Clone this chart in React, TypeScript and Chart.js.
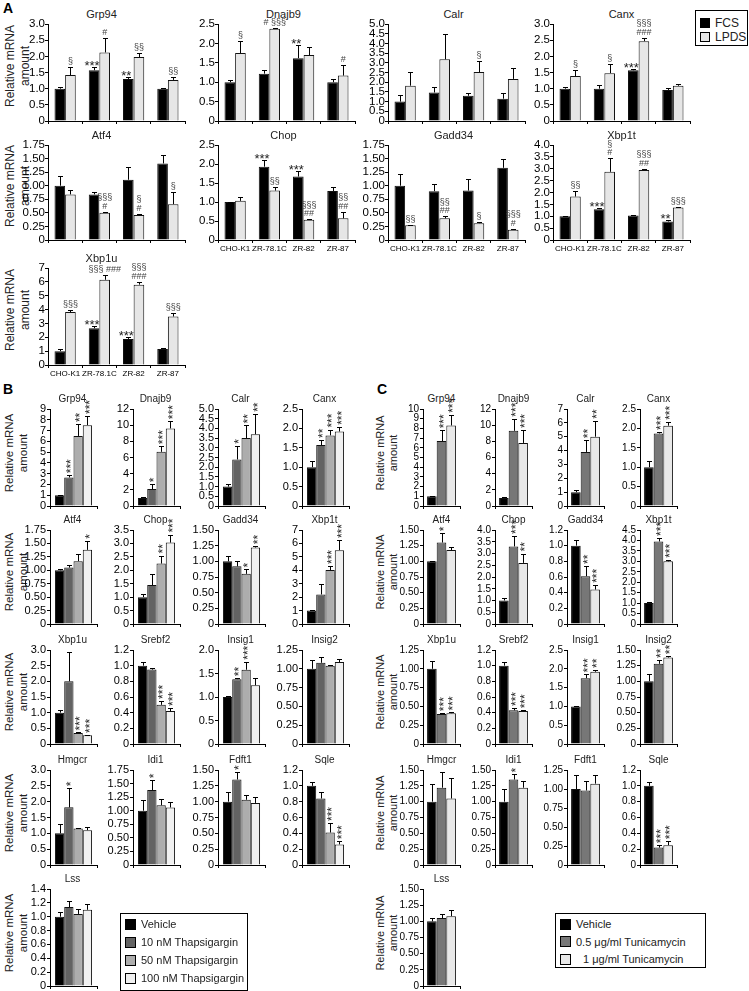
import React, { useEffect, useRef } from 'react';
import { Chart, registerables } from 'chart.js';

Chart.register(...registerables);

const FONT = "'Liberation Sans', Arial, Helvetica, sans-serif";
Chart.defaults.font.family = FONT;
Chart.defaults.color = '#000';

// ---------------- Panel A data ----------------
const A_SERIES = ['FCS', 'LPDS'];
const A_CELLS = ['CHO-K1', 'ZR-78.1C', 'ZR-82', 'ZR-87'];
const A_GENES = ['Grp94', 'Dnajb9', 'Calr', 'Canx', 'Atf4', 'Chop', 'Gadd34', 'Xbp1t', 'Xbp1u'];
const A_YMAX = [3, 2.5, 5, 3, 1.75, 2.5, 1.75, 4, 7];
const A_YSTEP = [0.5, 0.5, 0.5, 0.5, 0.25, 0.5, 0.25, 0.5, 1];
const A_FCS = [
  [1.0, 1.57, 1.3, 1.0],
  [1.0, 1.22, 1.62, 1.0],
  [1.0, 1.47, 1.3, 1.15],
  [1.0, 1.0, 1.57, 0.96],
  [1.0, 0.84, 1.11, 1.41],
  [1.0, 1.93, 1.67, 1.29],
  [1.0, 0.9, 0.91, 1.33],
  [1.0, 1.3, 1.03, 0.78],
  [1.0, 2.65, 1.88, 1.15],
];
const A_FCS_ERR = [
  [0.04, 0.1, 0.05, 0.03],
  [0.05, 0.1, 0.33, 0.07],
  [0.35, 0.28, 0.15, 0.3],
  [0.05, 0.1, 0.03, 0.06],
  [0.17, 0.04, 0.24, 0.16],
  [0.01, 0.17, 0.15, 0.1],
  [0.21, 0.14, 0.22, 0.17],
  [0.02, 0.03, 0.03, 0.05],
  [0.15, 0.2, 0.12, 0.08],
];
const A_LPDS = [
  [1.42, 2.12, 1.98, 1.27],
  [1.75, 2.38, 1.7, 1.17],
  [1.82, 3.18, 2.52, 2.17],
  [1.39, 1.48, 2.47, 1.09],
  [0.84, 0.5, 0.46, 0.66],
  [1.03, 1.3, 0.53, 0.57],
  [0.27, 0.4, 0.31, 0.19],
  [1.83, 2.87, 2.95, 1.37],
  [3.82, 6.15, 5.8, 3.5],
];
const A_LPDS_ERR = [
  [0.25, 0.45, 0.13, 0.08],
  [0.3, 0.02, 0.22, 0.27],
  [0.72, 1.32, 0.58, 0.58],
  [0.18, 0.27, 0.1, 0.06],
  [0.08, 0.02, 0.02, 0.22],
  [0.1, 0.1, 0.02, 0.18],
  [0.01, 0.04, 0.02, 0.02],
  [0.22, 0.58, 0.05, 0.03],
  [0.15, 0.35, 0.2, 0.25],
];
const A_FCS_SIG = [
  ['', '***', '**', ''],
  ['', '', '**', ''],
  ['', '', '', ''],
  ['', '', '***', ''],
  ['', '', '', ''],
  ['', '***', '***', ''],
  ['', '', '', ''],
  ['', '***', '', '**'],
  ['', '***', '***', ''],
];
const A_LPDS_SIG = [
  ['§', '#', '§§', '§§'],
  ['§', '# §§§', '', '#'],
  ['', '', '§', ''],
  ['§', '§', '§§§\n###', ''],
  ['', '§§§\n#', '§\n#', '§'],
  ['', '§§', '§§§\n##', '§§\n##'],
  ['§§', '§§\n##', '§', '§§§\n#'],
  ['§§', '§\n#', '§§§\n##', '§§§'],
  ['§§§', '§§§ ###', '§§§\n###', '§§§'],
];

// ---------------- Panels B and C: genes ----------------
const BC_GENES = ['Grp94', 'Dnajb9', 'Calr', 'Canx', 'Atf4', 'Chop', 'Gadd34', 'Xbp1t', 'Xbp1u', 'Srebf2', 'Insig1', 'Insig2', 'Hmgcr', 'Idi1', 'Fdft1', 'Sqle', 'Lss'];

// ---------------- Panel B data (thapsigargin) ----------------
const B_SERIES = ['Vehicle', '10 nM Thapsigargin', '50 nM Thapsigargin', '100 nM Thapsigargin'];
const B_YMAX = [9, 12, 5, 2.5, 1.75, 3.5, 1.5, 7, 3, 1.2, 2, 1.25, 3, 1.75, 1.5, 1.2, 1.4];
const B_YSTEP = [1, 2, 0.5, 0.5, 0.25, 0.5, 0.25, 1, 0.5, 0.2, 0.5, 0.25, 0.5, 0.25, 0.25, 0.2, 0.2];
const B_VEHICLE = [1, 1, 1, 1, 1, 1, 1, 1, 1, 1, 1, 1, 1, 1, 1, 1, 1];
const B_VEHICLE_ERR = [0.05, 0.15, 0.12, 0.15, 0.02, 0.1, 0.08, 0.05, 0.1, 0.05, 0.02, 0.12, 0.28, 0.2, 0.15, 0.05, 0.07];
const B_TG10 = [2.65, 2.1, 2.4, 1.57, 1.05, 1.45, 0.92, 2.2, 2.0, 0.95, 1.38, 1.08, 1.82, 1.38, 1.35, 0.84, 1.14];
const B_TG10_ERR = [0.2, 0.6, 0.7, 0.13, 0.05, 0.4, 0.08, 0.75, 0.95, 0.02, 0.02, 0.08, 0.6, 0.18, 0.12, 0.08, 0.09];
const B_TG50 = [6.5, 6.7, 3.5, 1.82, 1.17, 2.25, 0.8, 4.02, 0.35, 0.5, 1.58, 1.04, 1.15, 1.1, 1.03, 0.41, 1.04];
const B_TG50_ERR = [1.1, 0.7, 0.65, 0.15, 0.13, 0.3, 0.07, 0.3, 0.02, 0.05, 0.17, 0.01, 0.03, 0.12, 0.08, 0.12, 0.07];
const B_TG100 = [7.5, 9.6, 3.7, 1.92, 1.38, 3.03, 1.22, 5.5, 0.28, 0.42, 1.25, 1.09, 1.1, 1.06, 0.98, 0.26, 1.1];
const B_TG100_ERR = [0.85, 0.9, 1.05, 0.12, 0.17, 0.3, 0.02, 0.75, 0.01, 0.04, 0.15, 0.04, 0.1, 0.1, 0.1, 0.04, 0.09];
const B_TG10_SIG = ['***', '*', '*', '**', '', '', '', '', '', '', '**', '', '*', '*', '*', '', ''];
const B_TG50_SIG = ['**', '***', '**', '***', '', '**', '*', '***', '***', '***', '***', '', '', '', '', '***', ''];
const B_TG100_SIG = ['***', '***', '**', '***', '*', '***', '**', '***', '***', '***', '', '', '', '', '', '***', ''];

// ---------------- Panel C data (tunicamycin) ----------------
const C_SERIES = ['Vehicle', '0.5 μg/ml Tunicamycin', '1 μg/ml Tunicamycin'];
const C_YMAX = [10, 12, 7, 2.5, 1.5, 4, 1.2, 4.5, 1.25, 1.2, 2.5, 1.5, 1.5, 1.5, 1.25, 1.2, 1.5];
const C_YSTEP = [1, 2, 1, 0.5, 0.25, 0.5, 0.2, 0.5, 0.25, 0.2, 0.5, 0.25, 0.25, 0.25, 0.25, 0.2, 0.25];
const C_VEHICLE = [1, 1, 1, 1, 1, 1, 1, 1, 1, 1, 1, 1, 1, 1, 1, 1, 1];
const C_VEHICLE_ERR = [0.05, 0.1, 0.15, 0.15, 0.01, 0.1, 0.07, 0.05, 0.1, 0.05, 0.02, 0.12, 0.28, 0.2, 0.18, 0.05, 0.05];
const C_TM05 = [6.7, 9.3, 3.9, 1.87, 1.3, 3.3, 0.61, 3.95, 0.4, 0.43, 1.75, 1.28, 1.22, 1.35, 0.98, 0.22, 1.05];
const C_TM05_ERR = [1.1, 1.5, 0.85, 0.04, 0.15, 0.45, 0.13, 0.17, 0.01, 0.03, 0.1, 0.06, 0.25, 0.08, 0.12, 0.03, 0.07];
const C_TM1 = [8.3, 7.8, 5.0, 2.07, 1.18, 2.6, 0.44, 3.0, 0.41, 0.42, 1.92, 1.38, 1.05, 1.22, 1.07, 0.25, 1.08];
const C_TM1_ERR = [1.1, 1.6, 1.15, 0.1, 0.05, 0.4, 0.06, 0.07, 0.01, 0.01, 0.05, 0.02, 0.33, 0.1, 0.12, 0.05, 0.1];
const C_TM05_SIG = ['***', '***', '**', '***', '*', '***', '**', '***', '***', '***', '***', '**', '', '*', '', '***', ''];
const C_TM1_SIG = ['***', '***', '**', '***', '', '**', '***', '***', '***', '***', '**', '**', '', '', '', '***', ''];

// ---------------- Layout (positions / styles) ----------------
const YW = 40; // y-axis box width
const PT = 26; // top padding for annotations
const PR = 8;
const XH = 16;

const A_COLS = [48, 218, 388, 553];
const A_ROWS = [24, 145, 268];
const A_ROWH = [97, 95, 97];
const A_PLOTW = 137;
const A_POS = [[0, 0], [1, 0], [2, 0], [3, 0], [0, 1], [1, 1], [2, 1], [3, 1], [0, 2]];
const A_SHOWCELLS = [false, false, false, false, false, true, true, true, true];
const A_TITLE_DX = [-15, -3, -3, 0];
const A_COLORS = ['#000000', '#e6e6e6'];

const BC_ROWS = [409, 530, 650, 770, 889];
const BC_ROWH = [97, 94, 94, 95, 97];
const B_COLS = [50, 133, 218, 302];
const B_PLOTW = 47;
const B_COLORS = ['#000000', '#636363', '#adadad', '#f0f0f0'];
const C_COLS = [423, 495, 567, 640];
const C_PLOTW = 37;
const C_COLORS = ['#000000', '#777777', '#e8e8e8'];

type Series = { label: string; data: number[]; err: number[]; sig: string[]; color: string };
type Spec = {
  key: string;
  title: string;
  titleDx: number;
  titleSize: number;
  labels: string[];
  showLabels: boolean;
  series: Series[];
  ymax: number;
  ystep: number;
  axisX: number;
  plotTop: number;
  plotW: number;
  plotH: number;
  catPct: number;
  rotated: boolean;
  tickSize: number;
  tickPad: number;
};

const errorBarPlugin = {
  id: 'errbars',
  afterDatasetsDraw(chart: any) {
    const ctx = chart.ctx;
    const ys = chart.scales.y;
    chart.data.datasets.forEach((ds: any, i: number) => {
      const meta = chart.getDatasetMeta(i);
      meta.data.forEach((el: any, j: number) => {
        const e = ds.err ? ds.err[j] : 0;
        if (!e) return;
        const yt = Math.round(ys.getPixelForValue(ds.data[j] + e)) + 0.5;
        const x = Math.round(el.x) + 0.5;
        ctx.save();
        ctx.strokeStyle = '#000';
        ctx.lineWidth = 1;
        ctx.beginPath();
        ctx.moveTo(x, el.y);
        ctx.lineTo(x, yt);
        ctx.moveTo(x - 2.5, yt);
        ctx.lineTo(x + 2.5, yt);
        ctx.stroke();
        ctx.restore();
      });
    });
  },
};

const sigPlugin = {
  id: 'sig',
  afterDatasetsDraw(chart: any, _args: any, opts: any) {
    const ctx = chart.ctx;
    const ys = chart.scales.y;
    chart.data.datasets.forEach((ds: any, i: number) => {
      const meta = chart.getDatasetMeta(i);
      meta.data.forEach((el: any, j: number) => {
        const s = ds.sig ? ds.sig[j] : '';
        if (!s) return;
        const top = ys.getPixelForValue(ds.data[j] + (ds.err ? ds.err[j] : 0));
        ctx.save();
        if (opts.rotated) {
          ctx.fillStyle = '#222';
          ctx.font = `12px ${FONT}`;
          ctx.translate(el.x + 3, top - 2);
          ctx.rotate(-Math.PI / 2);
          ctx.textAlign = 'left';
          ctx.textBaseline = 'middle';
          ctx.fillText(s, 0, 0);
        } else {
          const lines = s.split('\n');
          const star = s.includes('*');
          ctx.fillStyle = star ? '#222' : '#444';
          ctx.font = star ? `13px ${FONT}` : `9px ${FONT}`;
          ctx.textAlign = 'center';
          ctx.textBaseline = 'alphabetic';
          let yy = star ? top + 3 : top - 3;
          const x = el.x + (i === 0 ? -2 : 0);
          for (let k = lines.length - 1; k >= 0; k--) {
            ctx.fillText(lines[k], x, yy);
            yy -= 8.5;
          }
        }
        ctx.restore();
      });
    });
  },
};

function decimals(step: number) {
  if (step >= 1) return 0;
  if (Math.abs(step * 10 - Math.round(step * 10)) < 1e-9) return 1;
  return 2;
}

function BarChart({ spec }: { spec: Spec }) {
  const ref = useRef<HTMLCanvasElement>(null);
  const w = YW + spec.plotW + PR;
  const h = PT + spec.plotH + XH;
  useEffect(() => {
    const c = ref.current!;
    const dec = decimals(spec.ystep);
    const chart = new Chart(c, {
      type: 'bar',
      data: {
        labels: spec.labels,
        datasets: spec.series.map((s) => ({
          label: s.label,
          data: s.data,
          err: s.err,
          sig: s.sig,
          backgroundColor: s.color,
          borderColor: '#111',
          borderWidth: 1,
          barPercentage: 1,
          categoryPercentage: spec.catPct,
        })) as any,
      },
      options: {
        responsive: false,
        animation: false,
        devicePixelRatio: 1,
        events: [],
        layout: { padding: { top: PT, right: PR, left: 0, bottom: 0 } },
        plugins: {
          legend: { display: false },
          tooltip: { enabled: false },
          sig: { rotated: spec.rotated },
        } as any,
        scales: {
          x: {
            type: 'category',
            offset: true,
            grid: { offset: true, drawOnChartArea: false, drawTicks: true, tickLength: 3, color: '#000' },
            border: { display: true, color: '#000', width: 1 },
            ticks: {
              display: spec.showLabels,
              font: { size: 8, family: FONT },
              color: '#000',
              padding: 1,
              maxRotation: 0,
              minRotation: 0,
              autoSkip: false,
            },
            afterFit: (s: any) => {
              s.height = XH;
            },
          } as any,
          y: {
            type: 'linear',
            min: 0,
            max: spec.ymax,
            grid: { drawOnChartArea: false, drawTicks: true, tickLength: 3, color: '#000' },
            border: { display: true, color: '#000', width: 1 },
            ticks: {
              stepSize: spec.ystep,
              autoSkip: false,
              maxTicksLimit: 100,
              font: { size: spec.tickSize, family: FONT },
              color: '#000',
              padding: spec.tickPad,
              callback: (v: any) => (Number(v) === 0 ? '0' : Number(v).toFixed(dec)),
            },
            afterFit: (s: any) => {
              s.width = YW;
            },
          } as any,
        },
      },
      plugins: [errorBarPlugin, sigPlugin],
    });
    return () => chart.destroy();
  }, []);
  const cx = spec.axisX + spec.plotW / 2 + spec.titleDx;
  return (
    <>
      <div
        style={{
          position: 'absolute',
          left: cx - 50,
          width: 100,
          top: spec.plotTop - 10 - 7,
          height: 14,
          lineHeight: '14px',
          textAlign: 'center',
          fontFamily: FONT,
          fontSize: spec.titleSize,
          fontWeight: 400,
          color: '#222',
        }}
      >
        {spec.title}
      </div>
      <canvas
        ref={ref}
        width={w}
        height={h}
        style={{ position: 'absolute', left: spec.axisX - YW, top: spec.plotTop - PT, width: w, height: h }}
      />
    </>
  );
}

function buildA(): Spec[] {
  return A_GENES.map((g, i) => {
    const [col, row] = A_POS[i];
    return {
      key: 'A-' + g,
      title: g,
      titleDx: A_TITLE_DX[col],
      titleSize: 11,
      labels: A_CELLS,
      showLabels: A_SHOWCELLS[i],
      series: [
        { label: A_SERIES[0], data: A_FCS[i], err: A_FCS_ERR[i], sig: A_FCS_SIG[i], color: A_COLORS[0] },
        { label: A_SERIES[1], data: A_LPDS[i], err: A_LPDS_ERR[i], sig: A_LPDS_SIG[i], color: A_COLORS[1] },
      ],
      ymax: A_YMAX[i],
      ystep: A_YSTEP[i],
      axisX: A_COLS[col],
      plotTop: A_ROWS[row],
      plotW: A_PLOTW,
      plotH: A_ROWH[row],
      catPct: 0.62,
      rotated: false,
      tickSize: 11.5,
      tickPad: 0,
    };
  });
}

function buildB(): Spec[] {
  return BC_GENES.map((g, i) => {
    const col = i % 4;
    const row = Math.floor(i / 4);
    const vals = [B_VEHICLE, B_TG10, B_TG50, B_TG100];
    const errs = [B_VEHICLE_ERR, B_TG10_ERR, B_TG50_ERR, B_TG100_ERR];
    const sigs = [B_VEHICLE.map(() => ''), B_TG10_SIG, B_TG50_SIG, B_TG100_SIG];
    return {
      key: 'B-' + g,
      title: g,
      titleDx: -1,
      titleSize: 10,
      labels: [''],
      showLabels: false,
      series: B_SERIES.map((lab, k) => ({ label: lab, data: [vals[k][i]], err: [errs[k][i]], sig: [sigs[k][i]], color: B_COLORS[k] })),
      ymax: B_YMAX[i],
      ystep: B_YSTEP[i],
      axisX: B_COLS[col],
      plotTop: BC_ROWS[row],
      plotW: B_PLOTW,
      plotH: BC_ROWH[row],
      catPct: 0.79,
      rotated: true,
      tickSize: 11,
      tickPad: 1,
    };
  });
}

function buildC(): Spec[] {
  return BC_GENES.map((g, i) => {
    const col = i % 4;
    const row = Math.floor(i / 4);
    const vals = [C_VEHICLE, C_TM05, C_TM1];
    const errs = [C_VEHICLE_ERR, C_TM05_ERR, C_TM1_ERR];
    const sigs = [C_VEHICLE.map(() => ''), C_TM05_SIG, C_TM1_SIG];
    return {
      key: 'C-' + g,
      title: g,
      titleDx: 0,
      titleSize: 10,
      labels: [''],
      showLabels: false,
      series: C_SERIES.map((lab, k) => ({ label: lab, data: [vals[k][i]], err: [errs[k][i]], sig: [sigs[k][i]], color: C_COLORS[k] })),
      ymax: C_YMAX[i],
      ystep: C_YSTEP[i],
      axisX: C_COLS[col],
      plotTop: BC_ROWS[row],
      plotW: C_PLOTW,
      plotH: BC_ROWH[row],
      catPct: 0.78,
      rotated: true,
      tickSize: 10,
      tickPad: 1,
    };
  });
}

function YLabel({ cx, cy, size, lh }: { cx: number; cy: number; size: number; lh: number }) {
  const w = 100;
  const hh = lh * 2;
  return (
    <div
      style={{
        position: 'absolute',
        left: cx - w / 2,
        top: cy - hh / 2,
        width: w,
        height: hh,
        transform: 'rotate(-90deg)',
        transformOrigin: 'center',
        textAlign: 'center',
        fontFamily: FONT,
        fontSize: size,
        lineHeight: `${lh}px`,
        color: '#222',
        whiteSpace: 'nowrap',
      }}
    >
      Relative mRNA
      <br />
      amount
    </div>
  );
}

function Legend({
  left,
  top,
  width,
  height,
  labels,
  colors,
  size,
  step,
  first,
  sq,
  textX,
  indent,
}: {
  left: number;
  top: number;
  width: number;
  height: number;
  labels: string[];
  colors: string[];
  size: number;
  step: number;
  first: number;
  sq: number;
  textX: number;
  indent?: number[];
}) {
  return (
    <div
      style={{
        position: 'absolute',
        left,
        top,
        width,
        height,
        border: '1px solid #000',
        boxSizing: 'border-box',
        background: '#fff',
      }}
    >
      {labels.map((lab, k) => (
        <React.Fragment key={lab}>
          <div
            style={{
              position: 'absolute',
              left: 4,
              top: first + k * step - sq / 2,
              width: sq,
              height: sq,
              background: colors[k],
              border: '1px solid #000',
              boxSizing: 'border-box',
            }}
          />
          <div
            style={{
              position: 'absolute',
              left: textX + (indent ? indent[k] : 0),
              top: first + k * step - 8,
              height: 16,
              lineHeight: '16px',
              fontFamily: FONT,
              fontSize: size,
              color: '#222',
              whiteSpace: 'nowrap',
            }}
          >
            {lab}
          </div>
        </React.Fragment>
      ))}
    </div>
  );
}

export default function App() {
  const specs = [...buildA(), ...buildB(), ...buildC()];
  const letter = (t: string, left: number, top: number) => (
    <div style={{ position: 'absolute', left, top, fontFamily: FONT, fontSize: 14, fontWeight: 700, color: '#000' }}>{t}</div>
  );
  return (
    <div
      style={{
        position: 'absolute',
        left: 0,
        top: 0,
        width: 749,
        height: 991,
        overflow: 'hidden',
        background: '#fff',
      }}
    >
      {letter('A', 3, 0)}
      {letter('B', 3, 381)}
      {letter('C', 377, 381)}
      {A_ROWS.map((t, r) => (
        <YLabel key={'ya' + r} cx={18} cy={t + A_ROWH[r] / 2 - 7} size={12} lh={15} />
      ))}
      {BC_ROWS.map((t, r) => (
        <YLabel key={'yb' + r} cx={16} cy={t + BC_ROWH[r] / 2 - 5} size={11.5} lh={14} />
      ))}
      {BC_ROWS.map((t, r) => (
        <YLabel key={'yc' + r} cx={387} cy={t + BC_ROWH[r] / 2 - 5} size={11} lh={13} />
      ))}
      {specs.map((s) => (
        <BarChart key={s.key} spec={s} />
      ))}
      <Legend left={695} top={10} width={53} height={36} labels={A_SERIES} colors={A_COLORS} size={12} step={14} first={12} sq={10} textX={19} />
      <Legend left={120} top={913} width={128} height={78} labels={B_SERIES} colors={B_COLORS} size={11} step={18} first={10} sq={11} textX={20} />
      <Legend left={555} top={913} width={151} height={55} labels={C_SERIES} colors={C_COLORS} size={11} step={17.5} first={10} sq={11} textX={20} indent={[0, 0, 7]} />
    </div>
  );
}
